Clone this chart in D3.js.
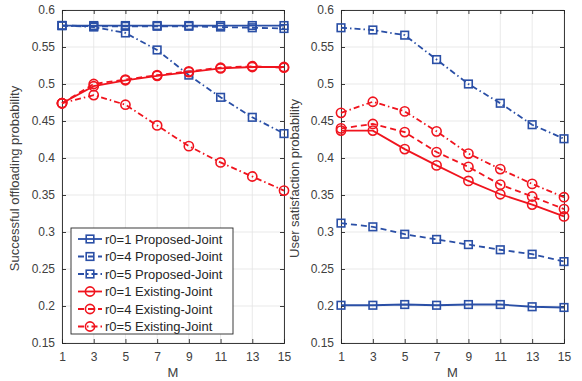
<!DOCTYPE html>
<html>
<head>
<meta charset="utf-8">
<script src="https://cdn.jsdelivr.net/npm/d3@7"></script>
<style>
  body { margin: 0; background: #fff; }
  text { font-family: Arial, "Liberation Sans", sans-serif; }
</style>
</head>
<body>
<div id="chart"></div>
<script>
const M = [1, 3, 5, 7, 9, 11, 13, 15]
const yTicks = [0.15, 0.2, 0.25, 0.3, 0.35, 0.4, 0.45, 0.5, 0.55, 0.6]

const names = [
  'r0=1 Proposed-Joint', 'r0=4 Proposed-Joint', 'r0=5 Proposed-Joint',
  'r0=1 Existing-Joint', 'r0=4 Existing-Joint', 'r0=5 Existing-Joint'
]

// successful offloading probability
const offload = [
  [0.579, 0.579, 0.579, 0.579, 0.579, 0.579, 0.579, 0.579],
  [0.579, 0.578, 0.578, 0.578, 0.578, 0.577, 0.576, 0.575],
  [0.579, 0.577, 0.569, 0.546, 0.512, 0.482, 0.455, 0.433],
  [0.474, 0.497, 0.505, 0.511, 0.516, 0.521, 0.523, 0.523],
  [0.474, 0.500, 0.506, 0.512, 0.517, 0.522, 0.524, 0.522],
  [0.474, 0.485, 0.472, 0.444, 0.416, 0.394, 0.375, 0.356]
]

// user satisfaction probability
const satisfy = [
  [0.201, 0.201, 0.202, 0.201, 0.202, 0.202, 0.199, 0.198],
  [0.312, 0.307, 0.297, 0.290, 0.283, 0.276, 0.270, 0.260],
  [0.576, 0.573, 0.566, 0.533, 0.500, 0.474, 0.445, 0.426],
  [0.437, 0.437, 0.412, 0.390, 0.369, 0.351, 0.337, 0.321],
  [0.440, 0.446, 0.435, 0.408, 0.388, 0.364, 0.348, 0.331],
  [0.461, 0.476, 0.463, 0.436, 0.406, 0.385, 0.365, 0.347]
]

const blue = '#2a4fa6'
const red = '#f0141e'
const styles = [
  { color: blue, dash: null, marker: 'square' },
  { color: blue, dash: '6,4', marker: 'square' },
  { color: blue, dash: '6,3,1.5,3', marker: 'square' },
  { color: red, dash: null, marker: 'circle' },
  { color: red, dash: '6,4', marker: 'circle' },
  { color: red, dash: '6,3,1.5,3', marker: 'circle' }
]

const width = 582
const height = 381
const axisColor = '#262626'
const textColor = '#404040'

const svg = d3.select('#chart').append('svg').attr('width', width).attr('height', height)

function panel(left, right, data, ylabel, labelX, withLegend) {
  const x = d3.scaleLinear().domain([1, 15]).range([left, right])
  const y = d3.scaleLinear().domain([0.15, 0.6]).range([343, 10])
  const g = svg.append('g')

  // grid
  g.append('g').selectAll('line.gx').data(M).join('line')
    .attr('x1', d => x(d)).attr('x2', d => x(d)).attr('y1', y(0.15)).attr('y2', y(0.6))
    .attr('stroke', '#e3e3e3').attr('stroke-width', 0.8)
  g.append('g').selectAll('line.gy').data(yTicks).join('line')
    .attr('y1', d => y(d)).attr('y2', d => y(d)).attr('x1', left).attr('x2', right)
    .attr('stroke', '#e3e3e3').attr('stroke-width', 0.8)

  // axes with inner ticks
  const xb = g.append('g').attr('transform', `translate(0,${y(0.15)})`)
    .call(d3.axisBottom(x).tickValues(M).tickSize(-4).tickPadding(9).tickFormat(d3.format('d')))
  const xt = g.append('g').attr('transform', `translate(0,${y(0.6)})`)
    .call(d3.axisTop(x).tickValues(M).tickSize(-4).tickFormat(''))
  const yl = g.append('g').attr('transform', `translate(${left},0)`)
    .call(d3.axisLeft(y).tickValues(yTicks).tickSize(-4).tickPadding(7).tickFormat(d => d3.format('')(+d.toFixed(2))))
  const yr = g.append('g').attr('transform', `translate(${right},0)`)
    .call(d3.axisRight(y).tickValues(yTicks).tickSize(-4).tickFormat(''))
  for (const a of [xb, xt, yl, yr]) {
    a.select('.domain').attr('stroke', axisColor).attr('stroke-width', 0.9)
    a.selectAll('.tick line').attr('stroke', axisColor).attr('stroke-width', 0.9)
    a.selectAll('text').attr('fill', textColor).style('font-size', '12px')
      .style('font-family', 'Arial, "Liberation Sans", sans-serif')
  }

  g.append('text').attr('x', (left + right) / 2).attr('y', 377)
    .attr('text-anchor', 'middle').attr('fill', textColor).style('font-size', '13px').text('M')
  g.append('text').attr('transform', `translate(${labelX},${(y(0.15) + y(0.6)) / 2 + 2}) rotate(-90)`)
    .attr('text-anchor', 'middle').attr('fill', textColor).style('font-size', '13px').text(ylabel)

  const line = d3.line().x((d, i) => x(M[i])).y(d => y(d))

  data.forEach((series, k) => {
    const s = styles[k]
    g.append('path').datum(series).attr('d', line)
      .attr('fill', 'none').attr('stroke', s.color).attr('stroke-width', 1.8)
      .attr('stroke-dasharray', s.dash)
    drawMarkers(g, series.map((v, i) => [x(M[i]), y(v)]), s)
  })

  if (withLegend) legend(g)
}

function drawMarkers(g, pts, s) {
  if (s.marker === 'square') {
    g.append('g').selectAll('rect').data(pts).join('rect')
      .attr('x', d => d[0] - 3.8).attr('y', d => d[1] - 3.8)
      .attr('width', 7.6).attr('height', 7.6)
      .attr('fill', 'none').attr('stroke', s.color).attr('stroke-width', 1.6)
  } else {
    g.append('g').selectAll('circle').data(pts).join('circle')
      .attr('cx', d => d[0]).attr('cy', d => d[1]).attr('r', 4.6)
      .attr('fill', 'none').attr('stroke', s.color).attr('stroke-width', 1.6)
  }
}

function legend(g) {
  const lg = g.append('g')
  lg.append('rect').attr('x', 71).attr('y', 228).attr('width', 162).attr('height', 106)
    .attr('fill', '#fff').attr('stroke', axisColor).attr('stroke-width', 0.9)
  names.forEach((n, k) => {
    const s = styles[k]
    const cy = 239 + k * 17.5
    lg.append('line').attr('x1', 78).attr('x2', 102).attr('y1', cy).attr('y2', cy)
      .attr('stroke', s.color).attr('stroke-width', 1.8).attr('stroke-dasharray', s.dash)
    drawMarkers(lg, [[90, cy]], s)
    lg.append('text').attr('x', 105).attr('y', cy + 4.5).attr('fill', '#262626')
      .style('font-size', '13px').text(n)
  })
}

panel(62, 284, offload, 'Successful offloading probability', 19, true)
panel(341, 564, satisfy, 'User satisfaction probability', 299, false)
</script>
</body>
</html>
